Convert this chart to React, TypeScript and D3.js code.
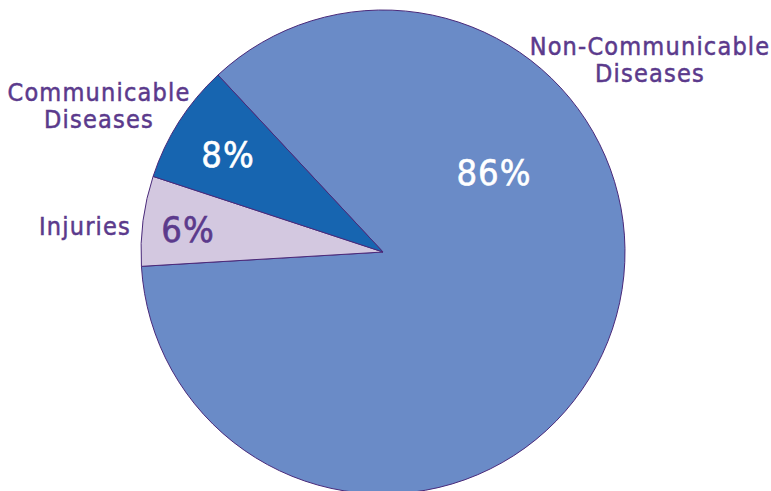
import React from "react";
import * as d3 from "d3";

const categories = ["Non-Communicable Diseases", "Injuries", "Communicable Diseases"];
const values = [86, 6, 8];
const percentLabels = ["86%", "6%", "8%"];
const colors = ["#6a8bc7", "#d3c8e0", "#1765b0"];
const pctColors = ["#ffffff", "#5b3a8c", "#ffffff"];

const W = 771, H = 491;
const cx = 383, cy = 252, R = 242;
const FONT = "'DejaVu Sans Condensed', 'Liberation Sans Narrow', sans-serif";
const PURPLE = "#5b3a8c";

export default function App() {
  const pie = d3.pie<number>().sort(null).value(d => d)
    .startAngle(-43 * Math.PI / 180).endAngle((360 - 43) * Math.PI / 180);
  const arcs = pie(values);
  const arc = d3.arc<d3.PieArcDatum<number>>().innerRadius(0).outerRadius(R);
  const pctPos: [number, number][] = [[494, 185], [188, 242], [228, 167]];
  const catLabels: { lines: string[]; x: number; y: number }[] = [
    { lines: ["Non-Communicable", "Diseases"], x: 650, y: 55 },
    { lines: ["Injuries"], x: 85, y: 235 },
    { lines: ["Communicable", "Diseases"], x: 99, y: 101 },
  ];
  return (
    <svg width={W} height={H} style={{ position: "absolute", left: 0, top: 0 }}>
      <rect width={W} height={H} fill="#fff" />
      <g transform={`translate(${cx},${cy})`}>
        {arcs.map((a, i) => (
          <path key={i} d={arc(a) || ""} fill={colors[i]} stroke="#4a2a7a" strokeWidth={1} />
        ))}
      </g>
      {arcs.map((a, i) => (
        <text key={"p" + i} x={pctPos[i][0]} y={pctPos[i][1]} textAnchor="middle"
          fontFamily={FONT} fontSize={36} letterSpacing={1} fill={pctColors[i]}
          stroke={pctColors[i]} strokeWidth={0.6}>{percentLabels[i]}</text>
      ))}
      {catLabels.map((c, i) => (
        <text key={"c" + i} x={c.x} y={c.y} textAnchor="middle" fontFamily={FONT}
          fontSize={25} letterSpacing={1.2} fill={PURPLE} stroke={PURPLE} strokeWidth={0.5}>
          {c.lines.map((l, j) => (
            <tspan key={j} x={c.x} dy={j === 0 ? 0 : 27}>{l}</tspan>
          ))}
        </text>
      ))}
    </svg>
  );
}
